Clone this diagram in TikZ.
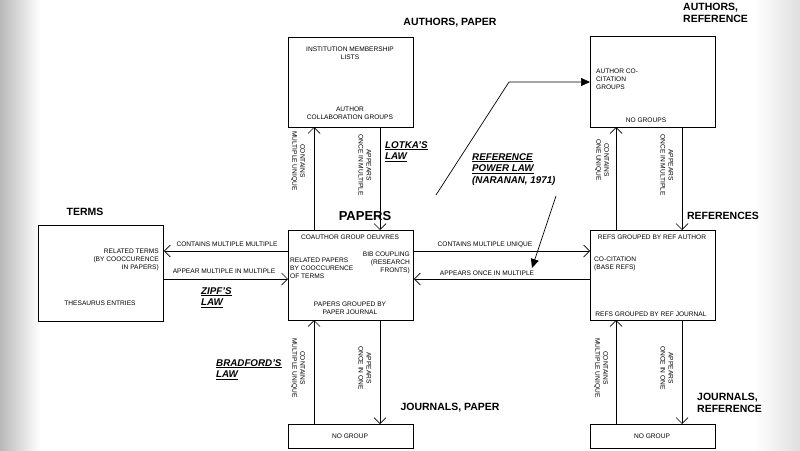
\documentclass[tikz,border=0pt]{standalone}
\usepackage{fontspec}
\setmainfont{Liberation Sans}
\usetikzlibrary{arrows.meta}
\begin{document}
\begin{tikzpicture}[x=1pt,y=-1pt,
  box/.style={draw,line width=0.8pt,anchor=north west,inner sep=0pt},
  sm/.style={font=\fontsize{6.6}{8}\selectfont,inner sep=0pt},
  hd/.style={font=\fontsize{10.5}{12}\selectfont\bfseries,inner sep=0pt,align=left},
  law/.style={font=\fontsize{9.8}{11.5}\selectfont\bfseries\itshape,inner sep=0pt,align=left,anchor=north west},
  rel/.style={line width=0.7pt,-{Straight Barb[length=6pt,width=12pt,line width=0.7pt]}},
  rot/.style={sm,rotate=-90,align=center}]
\useasboundingbox (0,0) rectangle (800,450);
\fill[white] (0,0) rectangle (800,450);
\shade[left color=gray!55,right color=white] (0,0) rectangle (40,450);
\shade[left color=white,right color=gray!25] (755,0) rectangle (800,450);
% boxes
\node[box,minimum width=125pt,minimum height=90pt] (ap) at (288,37) {};
\node[box,minimum width=125pt,minimum height=91pt] (ar) at (590,36) {};
\node[box,minimum width=125pt,minimum height=96pt] (tm) at (38,225) {};
\node[box,minimum width=125pt,minimum height=90pt] (pp) at (288,230) {};
\node[box,minimum width=125pt,minimum height=90pt] (rf) at (590,230) {};
\node[box,minimum width=125pt,minimum height=24pt] (jp) at (288,424) {};
\node[box,minimum width=125pt,minimum height=24pt] (jr) at (590,424) {};
% box texts
\node[sm,align=center] (t1) at (350,53) {INSTITUTION MEMBERSHIP\\LISTS};
\node[sm,align=center] (t2) at (350,113) {AUTHOR\\COLLABORATION GROUPS};
\node[sm,align=left,anchor=west] (t3) at (596,79) {AUTHOR CO-\\CITATION\\GROUPS};
\node[sm] (t4) at (646,120) {NO GROUPS};
\node[sm,align=right,anchor=east] (t5) at (159,260) {RELATED TERMS\\(BY COOCCURENCE\\IN PAPERS)};
\node[sm] (t6) at (100,303) {THESAURUS ENTRIES};
\node[sm] (t7) at (350,237) {COAUTHOR GROUP OEUVRES};
\node[sm,align=left,anchor=west] (t8) at (290,268) {RELATED PAPERS\\BY COOCCURENCE\\OF TERMS};
\node[sm,align=right,anchor=east] (t9) at (410,263) {BIB COUPLING\\(RESEARCH\\FRONTS)};
\node[sm,align=center] (t10) at (350,308) {PAPERS GROUPED BY\\PAPER JOURNAL};
\node[sm] (t11) at (652,237) {REFS GROUPED BY REF AUTHOR};
\node[sm,align=left,anchor=west] (t12) at (594,264) {CO-CITATION\\(BASE REFS)};
\node[sm] (t13) at (651,314) {REFS GROUPED BY REF JOURNAL};
\node[sm] (t14) at (350,436) {NO GROUP};
\node[sm] (t15) at (652,436) {NO GROUP};
% headers
\node[hd] (h1) at (450,23) {AUTHORS, PAPER};
\node[hd,anchor=north west] (h2) at (683,3) {AUTHORS,\\REFERENCE};
\node[hd] (h3) at (85,212) {TERMS};
\node[hd,font=\fontsize{13}{14}\selectfont\bfseries] (h4) at (365,216) {PAPERS};
\node[hd] (h5) at (723,216) {REFERENCES};
\node[hd] (h6) at (450,408) {JOURNALS, PAPER};
\node[hd,anchor=north west] (h7) at (697,393) {JOURNALS,\\REFERENCE};
% laws
\node[law] (l1) at (385,141) {\underline{LOTKA'S}\\\underline{LAW}};
\node[law] (l2) at (472,153) {\underline{REFERENCE}\\\underline{POWER LAW}\\(NARANAN, 1971)};
\node[law] (l3) at (201,287) {\underline{ZIPF'S}\\\underline{LAW}};
\node[law] (l4) at (216,359) {\underline{BRADFORD'S}\\\underline{LAW}};
% vertical relations
\coordinate (pa1) at (314,230); \coordinate (ap1) at (314,127);
\coordinate (ap2) at (380,127); \coordinate (pa2) at (380,230);
\draw[rel] (pa1) -- (ap1);
\draw[rel] (ap2) -- (pa2);
\node[rot] at (298,161) {CONTAINS\\MULTIPLE UNIQUE};
\node[rot] at (365,165) {APPEARS\\ONCE IN MULTIPLE};
\coordinate (ra1) at (616,230); \coordinate (ar1) at (616,127);
\coordinate (ar2) at (682,127); \coordinate (ra2) at (682,230);
\draw[rel] (ra1) -- (ar1);
\draw[rel] (ar2) -- (ra2);
\node[rot] at (602,160) {CONTAINS\\ONE UNIQUE};
\node[rot] at (667,165) {APPEARS\\ONCE IN MULTIPLE};
\coordinate (jp1) at (314,424); \coordinate (pj1) at (314,320);
\coordinate (pj2) at (380,320); \coordinate (jp2) at (380,424);
\draw[rel] (jp1) -- (pj1);
\draw[rel] (pj2) -- (jp2);
\node[rot] at (298,368) {CONTAINS\\MULTIPLE UNIQUE};
\node[rot] at (365,368) {APPEARS\\ONCE IN ONE};
\coordinate (jr1) at (616,424); \coordinate (rj1) at (616,320);
\coordinate (rj2) at (682,320); \coordinate (jr2) at (682,424);
\draw[rel] (jr1) -- (rj1);
\draw[rel] (rj2) -- (jr2);
\node[rot] at (601,368) {CONTAINS\\MULTIPLE UNIQUE};
\node[rot] at (667,368) {APPEARS\\ONCE IN ONE};
% horizontal relations
\draw[rel] (pp.west |- 0,251) -- (tm.east |- 0,251);
\draw[rel] (tm.east |- 0,279) -- (pp.west |- 0,279);
\node[sm] at (227,244) {CONTAINS MULTIPLE MULTIPLE};
\node[sm] at (224,271) {APPEAR MULTIPLE IN MULTIPLE};
\draw[rel] (pp.east |- 0,251) -- (rf.west |- 0,251);
\draw[rel] (rf.west |- 0,279) -- (pp.east |- 0,279);
\node[sm] at (485,245) {CONTAINS MULTIPLE UNIQUE};
\node[sm] at (487,273) {APPEARS ONCE IN MULTIPLE};
% power law arrows
\coordinate (pl0) at (436,195);
\coordinate (pl1) at (509,82);
\draw[line width=0.7pt,-{Triangle[length=9pt,width=8pt]}] (pl0) -- (pl1) -- (ar.west |- pl1);
\coordinate (pl2) at (556,196);
\coordinate (pl3) at (532,268);
\draw[line width=0.7pt,-{Triangle[length=9pt,width=8pt]}] (pl2) -- (pl3);
\end{tikzpicture}
\end{document}
